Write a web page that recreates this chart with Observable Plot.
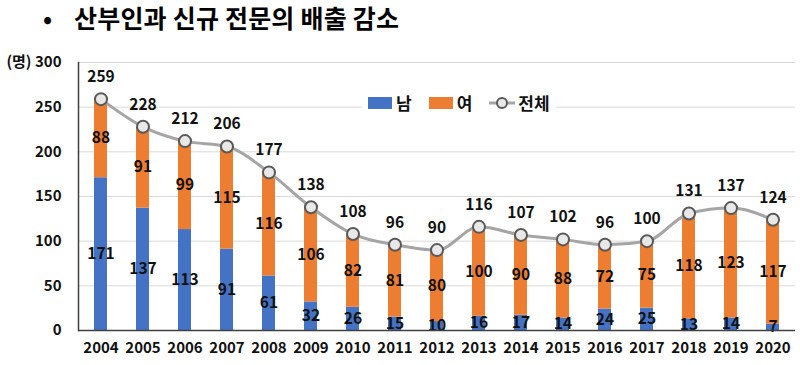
<!DOCTYPE html>
<html>
<head>
<meta charset="utf-8">
<script src="https://cdn.jsdelivr.net/npm/d3@7"></script>
<script src="https://cdn.jsdelivr.net/npm/@observablehq/plot@0.6"></script>
<style>
  html, body { margin: 0; padding: 0; background: #fff; }
  body { width: 800px; height: 365px; overflow: hidden; position: relative;
         font-family: 'Noto Sans CJK KR', 'Noto Sans', sans-serif; }
  #title-bullet { position: absolute; left: 43px; top: 5px; font-size: 24px; font-weight: bold; line-height: 26px; color: #000; }
  #title { position: absolute; left: 74px; top: 4px; font-size: 25px; font-weight: bold; line-height: 27px; color: #000; letter-spacing: 0.2px; }
  #chart { position: absolute; left: 0; top: 45px; }
  #legend { position: absolute; left: 362px; top: 91px; background: #fff; padding: 2px 6px;
            display: flex; align-items: center; font-size: 17px; font-weight: bold; color: #111; line-height: 20px; }
  .sw { display: inline-block; width: 24px; height: 12px; margin-right: 4px; }
  .item { display: flex; align-items: center; margin-right: 17px; }
</style>
</head>
<body>
<div id="title-bullet">•</div>
<div id="title">산부인과 신규 전문의 배출 감소</div>
<div id="chart"></div>
<div id="legend"></div>
<script>
const years = ["2004","2005","2006","2007","2008","2009","2010","2011","2012","2013","2014","2015","2016","2017","2018","2019","2020"];
const male   = [171,137,113,91,61,32,26,15,10,16,17,14,24,25,13,14,7];
const female = [88,91,99,115,116,106,82,81,80,100,90,88,72,75,118,123,117];
const total  = [259,228,212,206,177,138,108,96,90,116,107,102,96,100,131,137,124];
const yTicks = [0,50,100,150,200,250,300];
const seriesNames = ["남","여"];
const totalName = "전체";
const unitLabel = "(명)";
const colors = ["#4472C4","#ED7D31"];

const rows = years.flatMap((y, i) => [
  {year: y, sex: seriesNames[0], value: male[i]},
  {year: y, sex: seriesNames[1], value: female[i]}
]);
const tot = years.map((y, i) => ({year: y, total: total[i]}));

const chart = Plot.plot({
  width: 800,
  height: 320,
  marginLeft: 78,
  marginRight: 5,
  marginTop: 17,
  marginBottom: 35,
  style: {fontFamily: "'Noto Sans CJK KR', 'Noto Sans', sans-serif", fontSize: "15px", fontWeight: "bold", color: "#111", background: "transparent"},
  x: {type: "band", domain: years, paddingInner: 0.68, paddingOuter: 0.34, label: null},
  y: {domain: [0, 300], label: null},
  color: {domain: seriesNames, range: colors},
  marks: [
    Plot.gridY(yTicks, {stroke: "#d9d9d9", strokeOpacity: 1, strokeWidth: 1}),
    Plot.barY(rows, {x: "year", y: "value", fill: "sex", order: seriesNames}),
    Plot.text(rows, Plot.stackY({x: "year", y: "value", z: "sex", order: seriesNames, text: "value", fill: "#111", fontSize: 15.5, fontWeight: "bold"})),
    Plot.frame({anchor: "left", stroke: "#404040", strokeWidth: 1.5}),
    Plot.ruleY([0], {stroke: "#404040", strokeWidth: 1.5}),
    Plot.line(tot, {x: "year", y: "total", stroke: "#A5A5A5", strokeWidth: 3, curve: "monotone-x"}),
    Plot.dot(tot, {x: "year", y: "total", r: 6, fill: "#e8e8e8", stroke: "#595959", strokeWidth: 2}),
    Plot.text(tot, {x: "year", y: "total", text: "total", dy: -22, fill: "#111", fontSize: 15.5, fontWeight: "bold"}),
    Plot.axisY({ticks: yTicks, tickSize: 0, tickPadding: 17, fontSize: 15, fontWeight: "bold",
                tickFormat: d => d === 300 ? unitLabel + " " + d : String(d), label: null}),
    Plot.axisX({tickSize: 0, tickPadding: 12, fontSize: 15, fontWeight: "bold", label: null})
  ]
});
document.getElementById("chart").appendChild(chart);

// Legend
const legend = document.getElementById("legend");
seriesNames.forEach((name, i) => {
  const it = document.createElement("div");
  it.className = "item";
  const sw = document.createElement("span");
  sw.className = "sw";
  sw.style.background = colors[i];
  it.appendChild(sw);
  const t = document.createElement("span");
  t.textContent = name;
  it.appendChild(t);
  legend.appendChild(it);
});
const it = document.createElement("div");
it.className = "item";
it.style.marginRight = "0";
it.innerHTML = '<svg width="26" height="14" style="margin-right:3px"><line x1="0" y1="7" x2="26" y2="7" stroke="#A5A5A5" stroke-width="3"/><circle cx="13" cy="7" r="5" fill="#e8e8e8" stroke="#595959" stroke-width="2"/></svg>';
const t = document.createElement("span");
t.textContent = totalName;
it.appendChild(t);
legend.appendChild(it);
</script>
</body>
</html>
